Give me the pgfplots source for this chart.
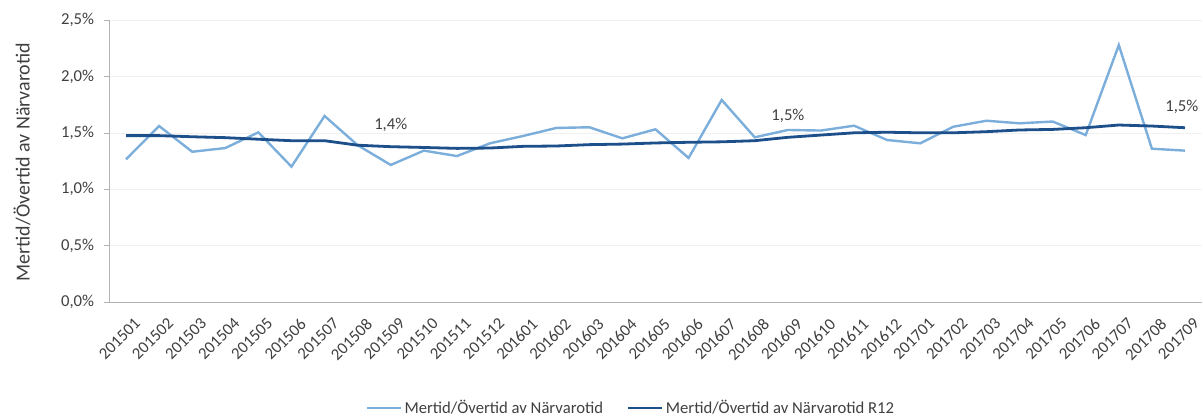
\documentclass[border=0pt]{standalone}
\usepackage{fontspec}
\setmainfont{Carlito}
\usepackage{pgfplots}
\usepackage{pgfplotstable}
\pgfplotsset{compat=1.18}
\definecolor{light}{HTML}{7BAEDB}
\definecolor{dark}{HTML}{1D4F8B}
\definecolor{txt}{HTML}{404040}

% i  monthly  R12
\pgfplotstableread{
i  m  r12
0  1.265 1.475
1  1.560 1.475
2  1.332 1.465
3  1.365 1.457
4  1.504 1.443
5  1.200 1.430
6  1.649 1.430
7  1.390 1.390
8  1.215 1.377
9  1.342 1.370
10 1.294 1.362
11 1.407 1.365
12 1.472 1.380
13 1.543 1.383
14 1.549 1.395
15 1.451 1.400
16 1.531 1.410
17 1.277 1.416
18 1.791 1.420
19 1.460 1.430
20 1.525 1.460
21 1.520 1.480
22 1.563 1.500
23 1.436 1.505
24 1.407 1.500
25 1.554 1.500
26 1.607 1.510
27 1.584 1.525
28 1.600 1.530
29 1.480 1.545
30 2.278 1.569
31 1.359 1.560
32 1.342 1.545
}\data

\begin{document}
\begin{tikzpicture}[font=\fontsize{12.5}{14}\selectfont]
\useasboundingbox (-82.1pt,-86.25pt) rectangle (820.1pt,226.5pt);
\begin{axis}[scale only axis,width=819pt,height=211.5pt,
  xmin=-0.5,xmax=32.5,ymin=0,ymax=2.5,clip=false,
  axis x line=bottom,axis y line=left,axis line style={draw=gray!60,-},
  xtick={0,...,32},major x tick style={draw=none},
  xticklabels={201501,201502,201503,201504,201505,201506,201507,201508,201509,201510,201511,201512,
    201601,201602,201603,201604,201605,201606,201607,201608,201609,201610,201611,201612,
    201701,201702,201703,201704,201705,201706,201707,201708,201709},
  xticklabel style={rotate=45,anchor=north east,text=txt,inner sep=1pt,yshift=-8pt},
  extra x ticks={-0.5,0.5,...,32.5},extra x tick labels={},
  extra x tick style={tick align=outside,major tick length=5pt,tick style={draw=gray!60}},
  ytick={0,0.5,1,1.5,2,2.5},
  yticklabels={{0,0\%},{0,5\%},{1,0\%},{1,5\%},{2,0\%},{2,5\%}},
  yticklabel style={text=txt,xshift=-4pt},
  tick align=outside,major tick length=4pt,y tick style={draw=gray!60},
  ymajorgrids,grid style={draw=gray!12},
  ylabel={Mertid/Övertid av Närvarotid},
  ylabel style={at={(axis description cs:-0.080,0.496)},anchor=center,
    font=\fontsize{15}{17}\selectfont,text=txt},
  legend columns=2,
  legend style={at={(axis description cs:0.478,-0.376)},anchor=center,draw=none,
    font=\fontsize{12.5}{14}\selectfont,text=txt,inner sep=0pt,
    /tikz/every even column/.append style={column sep=16pt}},
  legend image code/.code={\draw[#1] (0pt,0pt)--(25pt,0pt);}]
\addplot[color=light,line width=1.8pt] table[x=i,y=m] {\data};
\addlegendentry{Mertid/Övertid av Närvarotid}
\addplot[color=dark,line width=2.1pt] table[x=i,y=r12] {\data};
\addlegendentry{Mertid/Övertid av Närvarotid R12}
\node[text=txt] at (axis cs:8,1.569) {1,4\%};
\node[text=txt] at (axis cs:20,1.649) {1,5\%};
\node[text=txt,anchor=east,inner sep=1pt] at (axis cs:32.45,1.73) {1,5\%};
\end{axis}
\end{tikzpicture}
\end{document}
